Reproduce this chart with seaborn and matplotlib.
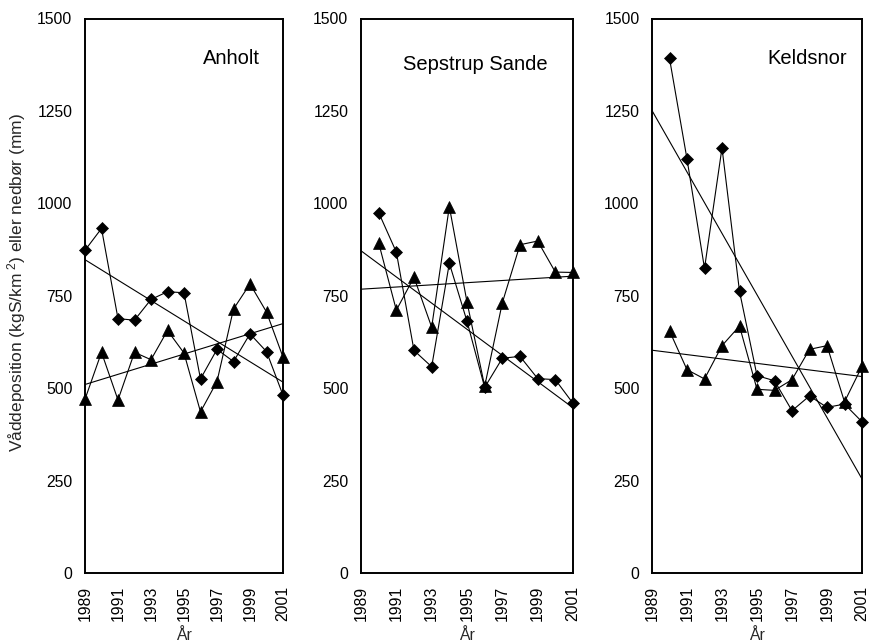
import matplotlib
matplotlib.use("Agg")
import matplotlib.pyplot as plt
import seaborn as sns

# ---------------- data ----------------
years_all = [1989, 1990, 1991, 1992, 1993, 1994, 1995, 1996, 1997, 1998, 1999, 2000, 2001]
years_1990 = [1990, 1991, 1992, 1993, 1994, 1995, 1996, 1997, 1998, 1999, 2000, 2001]

anholt_deposition = [873, 932, 688, 684, 740, 761, 758, 525, 605, 572, 647, 599, 481]
anholt_precip = [470, 597, 468, 597, 577, 656, 595, 436, 518, 714, 782, 706, 584]

sepstrup_deposition = [975, 868, 602, 558, 838, 681, 502, 581, 586, 526, 523, 459]
sepstrup_precip = [893, 711, 800, 665, 991, 733, 505, 731, 888, 898, 814, 813]

keldsnor_deposition = [1392, 1120, 824, 1150, 762, 534, 520, 439, 479, 448, 457, 409]
keldsnor_precip = [655, 550, 525, 615, 668, 497, 494, 523, 605, 615, 463, 559]

station_names = ["Anholt", "Sepstrup Sande", "Keldsnor"]
station_years = [years_all, years_1990, years_1990]
station_dep = [anholt_deposition, sepstrup_deposition, keldsnor_deposition]
station_pre = [anholt_precip, sepstrup_precip, keldsnor_precip]
label_xy = [(1997.9, 1392), (1995.45, 1375), (1997.85, 1392)]

y_ticks = [0, 250, 500, 750, 1000, 1250, 1500]
x_ticks = years_all
x_ticklabels = [str(y) if y % 2 == 1 else "" for y in years_all]
ylabel = "Våddeposition (kgS/km$^{\\ 2}$) eller nedbør (mm)"
xlabel = "År"

# ---------------- style ----------------
sns.set_theme(style="white")
plt.rcParams["font.family"] = ["Liberation Sans", "DejaVu Sans"]
plt.rcParams["mathtext.fontset"] = "custom"
plt.rcParams["mathtext.rm"] = "Liberation Sans"
plt.rcParams["mathtext.it"] = "Liberation Sans:italic"

W, H = 869, 642
fig = plt.figure(figsize=(W / 100, H / 100), dpi=100)

boxes = [(85, 283), (361, 573), (652, 862)]
top_px, bottom_px = 18.5, 573

FS = 11.3
for i, (l, r) in enumerate(boxes):
    ax = fig.add_axes([l / W, (H - bottom_px) / H, (r - l) / W, (bottom_px - top_px) / H])
    ax.set_xlim(1989, 2001)
    ax.set_ylim(0, 1500)

    yrs = station_years[i]
    # linear trend lines, extended to the axis limits
    sns.regplot(x=yrs, y=station_dep[i], ax=ax, scatter=False, ci=None,
                truncate=False, color="black", line_kws={"lw": 0.8})
    ax.set_xlim(1989, 2001)
    sns.regplot(x=yrs, y=station_pre[i], ax=ax, scatter=False, ci=None,
                truncate=False, color="black", line_kws={"lw": 0.8})
    ax.set_xlim(1989, 2001)

    sns.lineplot(x=yrs, y=station_dep[i], ax=ax, color="black", lw=0.8,
                 marker="D", markersize=6, markeredgecolor="black",
                 markerfacecolor="black", markeredgewidth=0.5, clip_on=False)
    sns.lineplot(x=yrs, y=station_pre[i], ax=ax, color="black", lw=0.8,
                 marker="^", markersize=8.5, markeredgecolor="black",
                 markerfacecolor="black", markeredgewidth=0.5, clip_on=False)

    ax.set_xlim(1989, 2001)
    ax.set_ylim(0, 1500)
    ax.set_xticks(x_ticks)
    ax.set_xticklabels(x_ticklabels, rotation=90, fontsize=FS)
    ax.set_yticks(y_ticks)
    ax.set_yticklabels([str(v) for v in y_ticks], fontsize=FS)
    ax.tick_params(axis="both", direction="inout", length=7, width=1.0,
                   color="black", labelcolor="black", pad=5.5)
    for sp in ax.spines.values():
        sp.set_visible(True)
        sp.set_color("black")
        sp.set_linewidth(1.4)
    ax.grid(False)
    ax.set_xlabel(xlabel, fontsize=FS)
    ax.xaxis.set_label_coords(0.5, (bottom_px - 628) / (bottom_px - top_px))
    if i == 0:
        ax.set_ylabel(ylabel, fontsize=12.5)
        ax.yaxis.set_label_coords((17 - l) / (r - l), (bottom_px - 282) / (bottom_px - top_px))
        ax.yaxis.label.set_va("center")
    else:
        ax.set_ylabel("")
    ax.text(label_xy[i][0], label_xy[i][1], station_names[i], ha="center",
            va="center", fontsize=14.5, color="black")

fig.savefig("out.png", dpi=100, facecolor="white")
